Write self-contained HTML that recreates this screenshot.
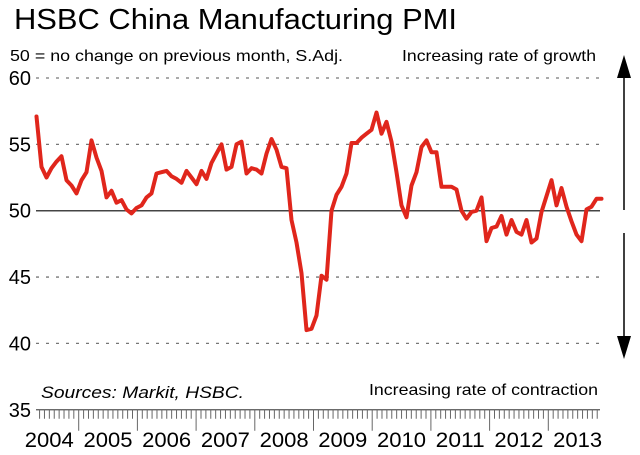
<!DOCTYPE html>
<html><head><meta charset="utf-8"><style>
html,body{margin:0;padding:0;background:#fff;width:640px;height:455px;overflow:hidden}
svg{display:block;font-family:"Liberation Sans",Arial,sans-serif}
</style></head><body>
<svg id="chart" width="640" height="455" viewBox="0 0 640 455">
<text x="14" y="29" font-size="29" textLength="443" lengthAdjust="spacingAndGlyphs" fill="#000">HSBC China Manufacturing PMI</text>
<text x="10" y="61" font-size="16" textLength="333" lengthAdjust="spacingAndGlyphs" fill="#000">50 = no change on previous month, S.Adj.</text>
<text x="402" y="61" font-size="16" textLength="194" lengthAdjust="spacingAndGlyphs" fill="#000">Increasing rate of growth</text>
<text x="41" y="398" font-size="17" font-style="italic" textLength="203" lengthAdjust="spacingAndGlyphs" fill="#000">Sources: Markit, HSBC.</text>
<text x="369" y="395" font-size="16" textLength="229" lengthAdjust="spacingAndGlyphs" fill="#000">Increasing rate of contraction</text>
<g id="grid"></g><g id="axis"></g><g id="series"></g>
<g>
<line x1="624" y1="76" x2="624" y2="210" stroke="#000" stroke-width="1.5"/>
<polygon points="617,78 631,78 624,55" fill="#000"/>
</g>
<g>
<line x1="624" y1="233" x2="624" y2="338" stroke="#000" stroke-width="1.5"/>
<polygon points="617,336 631,336 624,359" fill="#000"/>
</g>
</svg>
<script>
const yTicks=[60,55,50,45,40,35];
const years=["2004","2005","2006","2007","2008","2009","2010","2011","2012","2013"];
const pmi=[57.1,53.3,52.5,53.2,53.7,54.1,52.3,51.9,51.3,52.3,52.9,55.3,54.0,53.0,51.0,51.5,50.6,50.8,50.1,49.8,
50.2,50.4,51.0,51.3,52.8,52.9,53.0,52.6,52.4,52.1,53.0,52.5,52.0,53.0,52.4,53.6,54.3,55.0,53.1,53.3,
55.0,55.2,52.8,53.2,53.1,52.8,54.3,55.4,54.6,53.3,53.2,49.3,47.6,45.3,41.0,41.1,42.1,45.1,44.8,50.0,
51.2,51.8,52.8,55.1,55.1,55.5,55.8,56.1,57.4,55.8,56.7,55.2,52.9,50.4,49.5,51.9,52.9,54.8,55.3,54.4,
54.4,51.8,51.8,51.8,51.6,50.0,49.4,49.9,50.0,51.0,47.7,48.7,48.8,49.6,48.2,49.3,48.4,48.2,49.3,47.6,
47.9,49.9,51.1,52.3,50.4,51.7,50.3,49.2,48.2,47.7,50.1,50.3,50.9,50.9];
const NS="http://www.w3.org/2000/svg";
function mk(t,a,p){const e=document.createElementNS(NS,t);for(const k in a)e.setAttribute(k,a[k]);p.appendChild(e);return e;}
function yS(v){return 210.7-(v-50)*13.27;}
function xS(i){return 36.5+5*i;}
function xYear(i){return 20+58.7*i;}
const grid=document.getElementById('grid'),axis=document.getElementById('axis'),series=document.getElementById('series');
yTicks.forEach(v=>{
  if(v>35){
    const l=mk('line',{x1:36,x2:600,y1:yS(v),y2:yS(v),stroke:v===50?'#444':'#777','stroke-width':v===50?1.5:1.3,'stroke-dasharray':v===50?'none':'3 7'},grid);
    
    
  }
  const t=mk('text',{x:31,y:yS(v)+7,'font-size':20,'text-anchor':'end',fill:'#000'},axis);
  t.textContent=v;
  
  
});
const base=yS(35);
const ax=mk('line',{x1:36,x2:600,y1:base,y2:base,stroke:'#555','stroke-width':1.2},axis);


for(let m=0;m<=120;m++){
  const x=20+58.7*m/12;
  if(x<36||x>600)continue;
  const major=m%12===0;
  const tk=mk('line',{x1:x,x2:x,y1:base,y2:base+(major?21:9),stroke:'#666','stroke-width':1},axis);
  
  
}
years.forEach((y,i)=>{
  const t=mk('text',{x:xYear(i)+29.3,y:447,'font-size':21,'text-anchor':'middle',textLength:49,lengthAdjust:'spacingAndGlyphs',fill:'#000'},axis);
  t.textContent=y;
  
  
});
const d=pmi.map((v,i)=>(i?'L':'M')+xS(i).toFixed(1)+' '+yS(v).toFixed(1)).join(' ');
const p=mk('path',{d:d,fill:'none',stroke:'#e0261c','stroke-width':4,'stroke-linejoin':'round','stroke-linecap':'round'},series);


</script>
</body></html>
